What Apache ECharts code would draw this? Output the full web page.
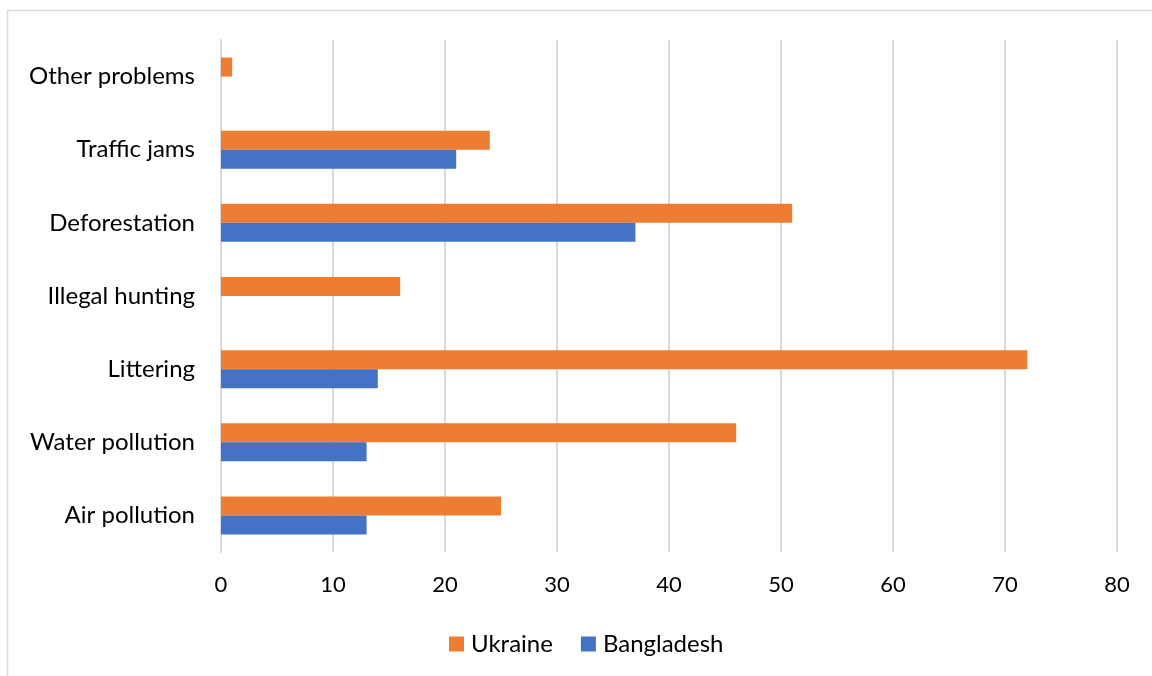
<!DOCTYPE html>
<html>
<head>
<meta charset="utf-8">
<script src="https://cdn.jsdelivr.net/npm/echarts@6/dist/echarts.min.js"></script>
<style>
  html, body { margin: 0; padding: 0; background: #fff; }
  #chart { width: 1152px; height: 676px; }
</style>
</head>
<body>
<div id="chart"></div>
<script>
  var categories = ['Air pollution', 'Water pollution', 'Littering', 'Illegal hunting',
    'Deforestation', 'Traffic jams', 'Other problems'];
  var ukraine = [25, 46, 72, 16, 51, 24, 1];
  var bangladesh = [13, 13, 14, 0, 37, 21, 0];
  var xTicks = { min: 0, max: 80, step: 10 };

  var font = 'Lato, "Open Sans", sans-serif';
  var chart = echarts.init(document.getElementById('chart'));

  chart.setOption({
    animation: false,
    textStyle: { fontFamily: font },
    graphic: [{
      type: 'rect',
      shape: { x: 7.5, y: 10.5, width: 1160, height: 700 },
      style: { fill: 'none', stroke: '#d9d9d9', lineWidth: 1.5 },
      silent: true
    }],
    grid: { left: 221, right: 35, top: 40, bottom: 124, containLabel: false },
    legend: {
      data: ['Ukraine', 'Bangladesh'],
      bottom: 20,
      left: 449,
      padding: 0,
      icon: 'rect',
      itemWidth: 15,
      itemHeight: 15,
      itemGap: 28,
      textStyle: { fontSize: 24, color: '#000', fontFamily: font, padding: [0, 0, 0, 2] }
    },
    xAxis: {
      type: 'value',
      min: xTicks.min,
      max: xTicks.max,
      interval: xTicks.step,
      axisLine: { show: false },
      axisTick: { show: false },
      splitLine: { lineStyle: { color: '#d9d9d9', width: 2 } },
      axisLabel: { fontSize: 22, color: '#000', margin: 22, fontFamily: font }
    },
    yAxis: {
      type: 'category',
      data: categories,
      axisLine: { show: true, lineStyle: { color: '#d9d9d9', width: 2 } },
      axisTick: { show: false },
      axisLabel: { fontSize: 24, color: '#000', margin: 26, fontFamily: font }
    },
    series: [
      {
        name: 'Ukraine',
        type: 'bar',
        data: ukraine,
        itemStyle: { color: '#ED7D31' },
        barGap: '0%',
        barCategoryGap: '48%'
      },
      {
        name: 'Bangladesh',
        type: 'bar',
        data: bangladesh,
        itemStyle: { color: '#4472C4' },
        barGap: '0%',
        barCategoryGap: '48%'
      }
    ]
  });
</script>
</body>
</html>
